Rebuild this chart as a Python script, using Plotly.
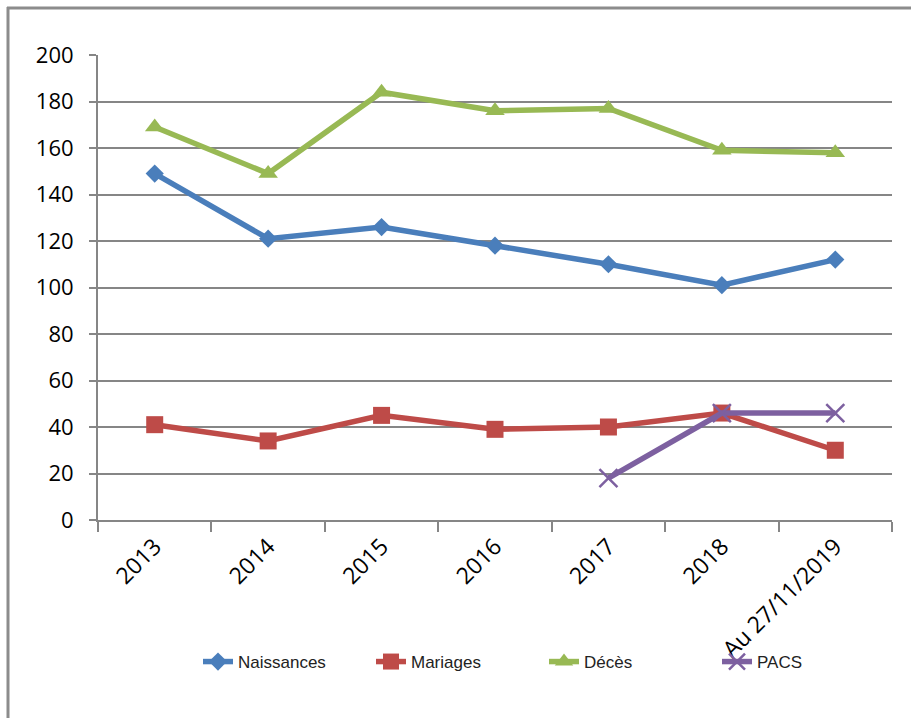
import plotly.graph_objects as go

categories = ["2013", "2014", "2015", "2016", "2017", "2018", "Au 27/11/2019"]
naissances = [149, 121, 126, 118, 110, 101, 112]
mariages = [41, 34, 45, 39, 40, 46, 30]
deces = [169, 149, 184, 176, 177, 159, 158]
pacs = [None, None, None, None, 18, 46, 46]
y_ticks = [0, 20, 40, 60, 80, 100, 120, 140, 160, 180, 200]

W, H = 911, 718
L, R, T, B = 98, 19, 55, 198

fig = go.Figure()
series = [
    ("Naissances", naissances, "#4A7EBB", "diamond", 14),
    ("Mariages", mariages, "#BE4B48", "square", 17),
    ("Décès", deces, "#98B954", "triangle-up", 17),
    ("PACS", pacs, "#7D60A0", "x-thin", 18),
]
for name, vals, col, sym, sz in series:
    marker = dict(symbol=sym, size=sz, color=col)
    if sym == "x-thin":
        marker["line"] = dict(color=col, width=2.5)
    else:
        marker["line"] = dict(color=col, width=0)
    fig.add_trace(go.Scatter(
        x=categories, y=vals, name=name, mode="lines+markers",
        line=dict(color=col, width=5.5), marker=marker,
        connectgaps=False,
    ))

pw = W - L - R
ph = H - T - B
def px2x(px):
    return (px - L) / pw
def py2y(py):
    return (H - B - py) / ph

fig.update_layout(
    width=W, height=H,
    margin=dict(l=L, r=R, t=T, b=B),
    paper_bgcolor="white", plot_bgcolor="white",
    font=dict(family="Open Sans, Liberation Sans, sans-serif", color="#000000"),
    showlegend=True,
    legend=dict(
        orientation="h", x=px2x(198), xanchor="left", y=py2y(662), yanchor="middle",
        font=dict(family="Liberation Sans, sans-serif", size=17, color="#222222"),
        entrywidth=128, entrywidthmode="pixels",
        bgcolor="rgba(0,0,0,0)",
    ),
    xaxis=dict(
        type="category", range=[-0.5, 6.5],
        showgrid=False, showline=True, linecolor="#868686", linewidth=2,
        ticks="outside", tickson="boundaries", ticklen=10, tickcolor="#868686", tickwidth=2,
        tickangle=-45, tickfont=dict(size=23), ticklabelstandoff=2,
    ),
    yaxis=dict(
        range=[0, 200], tickvals=y_ticks,
        showgrid=True, gridcolor="#868686", gridwidth=2,
        showline=True, linecolor="#868686", linewidth=2,
        ticks="outside", ticklen=7, tickcolor="#868686", tickwidth=2,
        ticklabelstandoff=11, tickfont=dict(size=22),
        zeroline=False,
    ),
    shapes=[
        dict(type="line", xref="paper", yref="paper",
             x0=px2x(8), x1=px2x(8), y0=py2y(7), y1=py2y(720),
             line=dict(color="#8C8C8C", width=3)),
        dict(type="line", xref="paper", yref="paper",
             x0=px2x(7), x1=px2x(912), y0=py2y(8), y1=py2y(8),
             line=dict(color="#8C8C8C", width=3)),
    ],
)

fig.write_html("out.html")
